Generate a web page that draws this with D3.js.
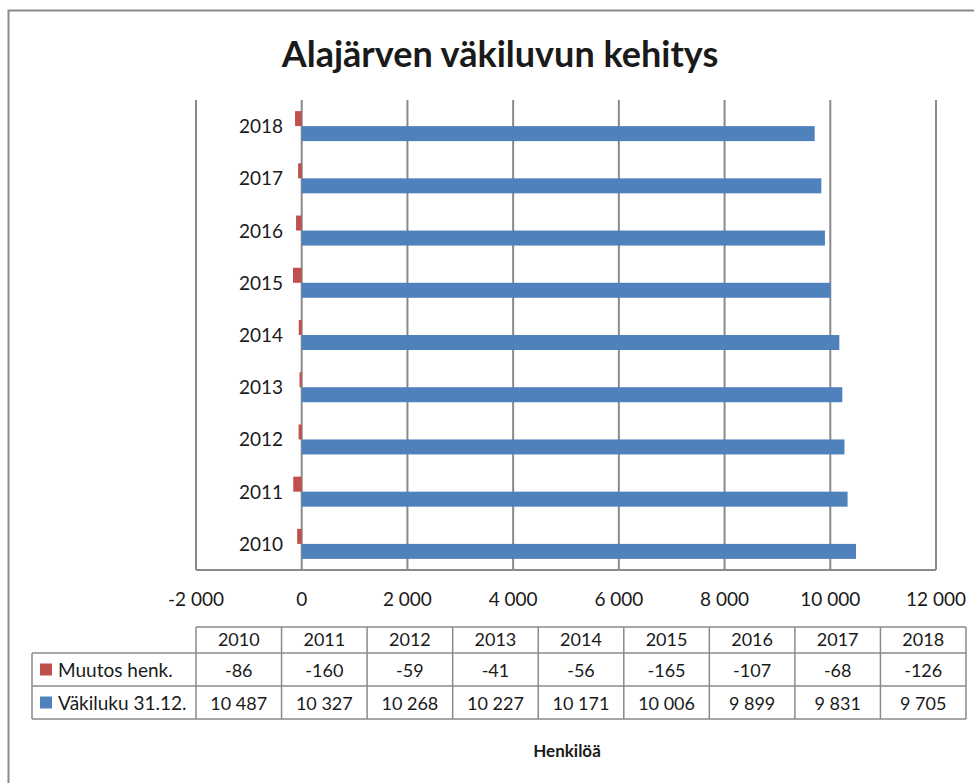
<!DOCTYPE html>
<html>
<head>
<meta charset="utf-8">
<script src="https://cdn.jsdelivr.net/npm/d3@7"></script>
<style>
  body { margin: 0; background: #fff; }
  svg text { font-family: Lato, "Open Sans", sans-serif; fill: #1a1a1a; }
</style>
</head>
<body>
<svg id="chart" width="974" height="783"></svg>
<script>
// data
const years = ["2010", "2011", "2012", "2013", "2014", "2015", "2016", "2017", "2018"];
const muutos = [-86, -160, -59, -41, -56, -165, -107, -68, -126];
const vakiluku = [10487, 10327, 10268, 10227, 10171, 10006, 9899, 9831, 9705];
const seriesNames = ["Muutos henk.", "Väkiluku 31.12."];
const seriesColors = ["#C0504D", "#4F81BD"];
const xTicks = [-2000, 0, 2000, 4000, 6000, 8000, 10000, 12000];

const grey = "#8a8a8a";
const fmt = v => d3.format(",")(v).replace(/,/g, " ").replace("\u2212", "-");

let svg = d3.select("#chart");

// outer frame (runs off the right and bottom edges)
svg.append("rect")
  .attr("x", 8.5).attr("y", 10.5)
  .attr("width", 1000).attr("height", 1000)
  .attr("fill", "none")
  .attr("stroke", grey)
  .attr("stroke-width", 2)

svg.append("text")
  .attr("x", 500).attr("y", 67)
  .attr("text-anchor", "middle")
  .style("font-size", "36px")
  .style("font-weight", "bold")
  .text("Alajärven väkiluvun kehitys")

const x = d3.scaleLinear().domain([-2000, 12000]).range([196, 936]);
const y = d3.scaleBand().domain(years.slice().reverse()).range([100, 570]);
const ySub = d3.scaleBand().domain([0, 1]).range([0, y.bandwidth()]).paddingOuter(0.74);

//gridlines
svg.append("g")
  .selectAll("line")
  .data(xTicks)
  .join("line")
  .attr("x1", d => x(d)).attr("x2", d => x(d))
  .attr("y1", 100).attr("y2", 570)
  .attr("stroke", grey)
  .attr("stroke-width", 2)

svg.append("line")
  .attr("x1", x(-2000)).attr("x2", x(12000))
  .attr("y1", 570).attr("y2", 570)
  .attr("stroke", grey)
  .attr("stroke-width", 2)

// bars
const rows = years.map((yr, i) => ({ year: yr, values: [muutos[i], vakiluku[i]] }));

let groups = svg.append("g")
  .selectAll("g")
  .data(rows)
  .join("g")
  .attr("transform", d => `translate(0,${y(d.year)})`)

groups.selectAll("rect")
  .data(d => d.values.map((v, s) => ({ v, s })))
  .join("rect")
  .attr("x", d => x(Math.min(0, d.v)))
  .attr("width", d => Math.abs(x(d.v) - x(0)))
  .attr("y", d => ySub(d.s))
  .attr("height", ySub.bandwidth())
  .attr("fill", d => seriesColors[d.s])

// year labels
svg.append("g")
  .selectAll("text")
  .data(years)
  .join("text")
  .attr("x", 283)
  .attr("y", d => y(d) + y.bandwidth() / 2 + 7)
  .attr("text-anchor", "end")
  .style("font-size", "19px")
  .text(d => d)

// x tick labels
svg.append("g")
  .selectAll("text")
  .data(xTicks)
  .join("text")
  .attr("x", d => x(d))
  .attr("y", 606)
  .attr("text-anchor", "middle")
  .style("font-size", "19px")
  .text(d => fmt(d))

// data table
const colX = d3.scaleBand().domain(years).range([196, 966]);
const rowTop = [627, 653, 686, 719];
const legendLeft = 32;

const table = svg.append("g")
  .attr("stroke", grey)
  .attr("stroke-width", 1.5)
  .attr("fill", "none")

// horizontal lines
table.append("line").attr("x1", 196).attr("x2", 966).attr("y1", rowTop[0]).attr("y2", rowTop[0])
rowTop.slice(1).forEach(t => {
  table.append("line").attr("x1", legendLeft).attr("x2", 966).attr("y1", t).attr("y2", t)
})
// vertical lines
table.append("line").attr("x1", legendLeft).attr("x2", legendLeft).attr("y1", rowTop[1]).attr("y2", rowTop[3])
years.forEach(yr => {
  table.append("line").attr("x1", colX(yr)).attr("x2", colX(yr)).attr("y1", rowTop[0]).attr("y2", rowTop[3])
})
table.append("line").attr("x1", 966).attr("x2", 966).attr("y1", rowTop[0]).attr("y2", rowTop[3])

svg.append("g")
  .selectAll("text")
  .data(years)
  .join("text")
  .attr("x", d => colX(d) + colX.bandwidth() / 2)
  .attr("y", (rowTop[0] + rowTop[1]) / 2 + 6)
  .attr("text-anchor", "middle")
  .style("font-size", "18px")
  .text(d => d)

const tableRows = [muutos, vakiluku];
tableRows.forEach((vals, r) => {
  const mid = (rowTop[r + 1] + rowTop[r + 2]) / 2;
  svg.append("rect")
    .attr("x", 40).attr("y", mid - 6)
    .attr("width", 12).attr("height", 12)
    .attr("fill", seriesColors[r])
  svg.append("text")
    .attr("x", 58).attr("y", mid + 7)
    .style("font-size", "19px")
    .text(seriesNames[r])
  svg.append("g")
    .selectAll("text")
    .data(vals)
    .join("text")
    .attr("x", (d, i) => colX(years[i]) + colX.bandwidth() / 2)
    .attr("y", mid + 7)
    .attr("text-anchor", "middle")
    .style("font-size", "18px")
    .text(d => fmt(d))
})

svg.append("text")
  .attr("x", 567).attr("y", 757)
  .attr("text-anchor", "middle")
  .style("font-size", "17px")
  .style("font-weight", "bold")
  .text("Henkilöä")
</script>
</body>
</html>
